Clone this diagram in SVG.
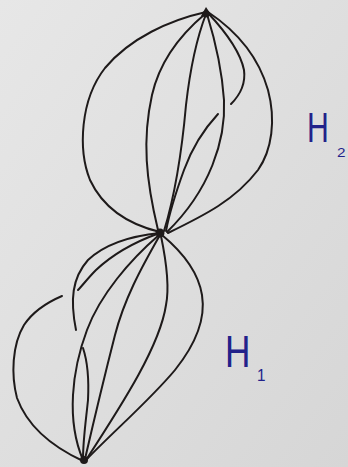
<svg xmlns="http://www.w3.org/2000/svg" width="348" height="467" viewBox="0 0 348 467">
<defs>
<linearGradient id="bg" x1="0" y1="0" x2="1" y2="1">
<stop offset="0" stop-color="#e7e7e7"/>
<stop offset="1" stop-color="#d6d6d6"/>
</linearGradient>
<style>
.e{fill:none;stroke:#1e1a1a;stroke-width:2;stroke-linecap:round;stroke-linejoin:round}
.v{fill:#1e1a1a}
.lbl{font-family:"Liberation Sans",Arial,sans-serif;fill:#22228a;font-weight:normal}
</style>
</defs>
<rect width="348" height="467" fill="url(#bg)"/>
<g id="connectors">
<path class="e" d="M206,12 C170,20 130,38 105,68 C80,100 78,150 90,180 C105,212 135,226 160,232"/>
<path class="e" d="M205,14 C180,35 160,60 152,95 C142,140 146,180 158,230"/>
<path class="e" d="M206,14 C196,40 190,70 186,105 C182,150 175,195 164,231"/>
<path class="e" d="M218,114 C205,128 192,148 184,170 C176,192 170,210 166,231"/>
<path class="e" d="M207,14 C215,40 222,70 224,100 C226,140 210,190 167,232"/>
<path class="e" d="M208,13 C222,28 240,50 244,70 C246,85 240,95 231,104"/>
<path class="e" d="M208,12 C235,30 258,55 268,90 C276,120 272,150 258,170 C235,200 205,215 168,233"/>
<path class="e" d="M160,233 C130,236 105,244 88,260 C72,278 70,300 76,330"/>
<path class="e" d="M157,234 C135,242 112,255 96,270 C88,278 82,286 78,290"/>
<path class="e" d="M62,296 C48,302 34,310 24,325 C12,345 11,375 17,398 C28,428 55,448 83,461"/>
<path class="e" d="M159,235 C130,260 100,295 87,330 C72,370 66,420 83,460"/>
<path class="e" d="M83,348 C87,360 89,380 88,400 C86,420 83,440 83,459"/>
<path class="e" d="M160,235 C140,270 124,300 115,335 C104,378 94,420 85,459"/>
<path class="e" d="M161,236 C166,260 170,285 166,305 C160,345 125,400 86,460"/>
<path class="e" d="M162,235 C180,250 198,270 202,295 C206,320 195,345 175,370 C150,400 115,430 87,459"/>
</g>
<g id="v-top"><path class="v" d="M201,16 L206,7 L212,16 Z"/><circle class="v" cx="206" cy="14" r="3.5"/></g>
<g id="v-mid"><circle class="v" cx="160" cy="233" r="4.5"/></g>
<g id="v-bot"><circle class="v" cx="84" cy="460" r="4"/></g>
<g id="label-h2"><text class="lbl" x="0" y="0" font-size="42" transform="translate(307,142) scale(0.72,1)">H</text><text class="lbl" x="0" y="0" font-size="17" transform="translate(337,157) scale(0.9,0.8)">2</text></g>
<g id="label-h1"><text class="lbl" x="0" y="0" font-size="44" transform="translate(225,367) scale(0.8,1)">H</text><text class="lbl" x="0" y="0" font-size="17" transform="translate(257,381) scale(0.9,1)">1</text></g>
</svg>
